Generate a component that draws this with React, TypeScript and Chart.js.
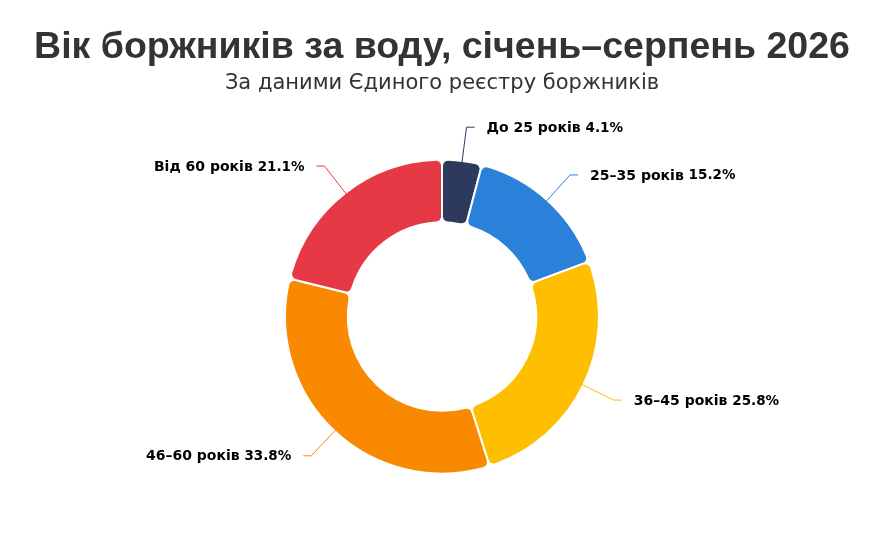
import React, { useRef, useEffect } from "react";
import { Chart, registerables } from "chart.js";

Chart.register(...registerables);

const ageGroups = ["До 25 років", "25–35 років", "36–45 років", "46–60 років", "Від 60 років"];
const shares = [4.1, 15.2, 25.8, 33.8, 21.1];
const sliceColors = ["#2d3a5e", "#2b80d9", "#fdbf00", "#f98900", "#e63946"];

const TITLE_FONT = "'Liberation Sans', Arial, sans-serif";
const LABEL_FONT = "'DejaVu Sans', sans-serif";

// leader lines + labels outside the ring
const outsideLabels = {
  id: "outsideLabels",
  afterDatasetsDraw(chart: any) {
    const { ctx } = chart;
    const meta = chart.getDatasetMeta(0);
    meta.data.forEach((arc: any, i: number) => {
      const { x, y, startAngle, endAngle, outerRadius } = arc.getProps(
        ["x", "y", "startAngle", "endAngle", "outerRadius"],
        true
      );
      const mid = (startAngle + endAngle) / 2;
      const cos = Math.cos(mid);
      const sin = Math.sin(mid);
      const r0 = outerRadius - 3;
      const r1 = outerRadius + 34;
      const x0 = x + cos * r0;
      const y0 = y + sin * r0;
      const x1 = x + cos * r1;
      const y1 = y + sin * r1;
      const right = cos >= 0;
      const x2 = x1 + (right ? 8 : -8);

      ctx.save();
      ctx.strokeStyle = sliceColors[i];
      ctx.lineWidth = 1;
      ctx.beginPath();
      ctx.moveTo(x0, y0);
      ctx.lineTo(x1, y1);
      ctx.lineTo(x2, y1);
      ctx.stroke();

      const name = ageGroups[i] + " ";
      const pct = shares[i].toFixed(1) + "%";
      ctx.fillStyle = "#000";
      ctx.textBaseline = "middle";
      ctx.font = `bold 14px ${LABEL_FONT}`;
      const wName = ctx.measureText(name).width;
      ctx.font = `bold 13.5px ${LABEL_FONT}`;
      const wPct = ctx.measureText(pct).width;
      const tx = right ? x2 + 12 : x2 - 12 - wName - wPct;
      ctx.textAlign = "left";
      ctx.font = `bold 14px ${LABEL_FONT}`;
      ctx.fillText(name, tx, y1 + 1);
      ctx.font = `bold 13.5px ${LABEL_FONT}`;
      ctx.fillText(pct, tx + wName, y1 + 1);
      ctx.restore();
    });
  },
};

const App = () => {
  const canvasRef = useRef<HTMLCanvasElement>(null);
  const chartRef = useRef<Chart | null>(null);

  useEffect(() => {
    if (!canvasRef.current) return;
    if (chartRef.current) chartRef.current.destroy();

    chartRef.current = new Chart(canvasRef.current, {
      type: "doughnut",
      data: {
        labels: ageGroups,
        datasets: [
          {
            data: shares,
            backgroundColor: sliceColors,
            borderColor: "#ffffff",
            borderWidth: 2,
            borderRadius: 6,
            radius: 157,
            cutout: "60%",
          },
        ],
      },
      options: {
        responsive: true,
        maintainAspectRatio: false,
        animation: false,
        layout: { padding: { left: 0, right: 8, top: 0, bottom: 10 } },
        plugins: {
          legend: { display: false },
          tooltip: { enabled: false },
          title: {
            display: true,
            text: "Вік боржників за воду, січень–серпень 2026",
            color: "#333333",
            font: { family: TITLE_FONT, size: 37.5, weight: "bold", lineHeight: 1.2 },
            padding: { top: 25, bottom: 1 },
          },
          subtitle: {
            display: true,
            text: "За даними Єдиного реєстру боржників",
            color: "#333333",
            font: { family: LABEL_FONT, size: 21, weight: "normal", lineHeight: 1.2 },
            padding: { top: 0, bottom: 10 },
          },
        },
      },
      plugins: [outsideLabels],
    });

    return () => {
      if (chartRef.current) {
        chartRef.current.destroy();
        chartRef.current = null;
      }
    };
  }, []);

  return (
    <div
      style={{
        position: "absolute",
        left: 0,
        top: 0,
        width: 892,
        height: 537,
        background: "#ffffff",
      }}
    >
      <canvas ref={canvasRef}></canvas>
    </div>
  );
};

export default App;
